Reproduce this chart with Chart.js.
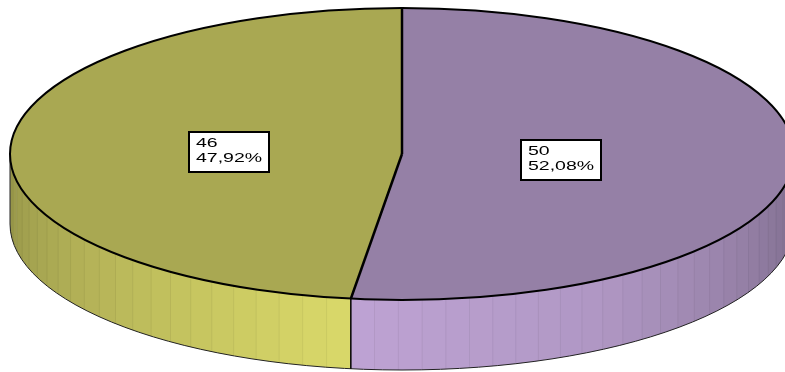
<!DOCTYPE html>
<html>
<head>
<meta charset="utf-8">
<script src="https://cdn.jsdelivr.net/npm/chart.js@4"></script>
<style>
  html, body { margin: 0; padding: 0; background: #fff; }
  canvas { display: block; }
</style>
</head>
<body>
<canvas id="pieChart" width="785" height="372"></canvas>
<script>
const categories = ['1', '2'];
const values = [50, 46];
const topColors = ['#9580a6', '#a9a852'];

// ellipse of the top face and the height of the side wall
const CX = 402, CY = 154, RX = 392, RY = 146, DEPTH = 70;

// brightness of the side wall by angle (degrees, 90 = front)
const lightStops = [[0, 0.82], [60, 1.18], [100, 1.28], [140, 1.08], [180, 0.88]];

function light(deg) {
  if (deg <= lightStops[0][0]) return lightStops[0][1];
  for (let i = 1; i < lightStops.length; i++) {
    const [d1, v1] = lightStops[i];
    const [d0, v0] = lightStops[i - 1];
    if (deg <= d1) return v0 + (v1 - v0) * (deg - d0) / (d1 - d0);
  }
  return lightStops[lightStops.length - 1][1];
}

function shade(hex, f) {
  const n = parseInt(hex.slice(1), 16);
  const c = [(n >> 16) & 255, (n >> 8) & 255, n & 255].map(v => Math.min(255, Math.round(v * f)));
  return `rgb(${c[0]},${c[1]},${c[2]})`;
}

function drawWall(ctx, a1, a2, base) {
  // only the front half of the wall is visible
  const s = Math.max(a1, 0);
  const e = Math.min(a2, Math.PI);
  if (e <= s) return;
  const step = 3.6 * Math.PI / 180;
  const n = Math.ceil((e - s) / step);
  const over = 0.004;
  for (let i = 0; i < n; i++) {
    const t0 = s + (e - s) * i / n;
    const t1 = s + (e - s) * (i + 1) / n;
    const u1 = i < n - 1 ? t1 + over : t1;
    ctx.fillStyle = shade(base, light((t0 + t1) / 2 * 180 / Math.PI));
    ctx.beginPath();
    ctx.ellipse(CX, CY, RX, RY, 0, t0, u1);
    ctx.ellipse(CX, CY + DEPTH, RX, RY, 0, u1, t0, true);
    ctx.closePath();
    ctx.fill();
  }
  // faint facet seams
  ctx.strokeStyle = 'rgba(0,0,0,0.06)';
  ctx.lineWidth = 1;
  for (let i = 1; i < n; i++) {
    const t = s + (e - s) * i / n;
    const x = CX + RX * Math.cos(t), y = CY + RY * Math.sin(t);
    ctx.beginPath();
    ctx.moveTo(x, y);
    ctx.lineTo(x, y + DEPTH);
    ctx.stroke();
  }
}

function fmtPct(v) {
  return v.toFixed(2).replace('.', ',') + '%';
}

const pie3d = {
  id: 'pie3d',
  beforeDatasetsDraw(chart) {
    const ctx = chart.ctx;
    const arcs = chart.getDatasetMeta(0).data;
    arcs.forEach((arc, i) => drawWall(ctx, arc.startAngle, arc.endAngle, topColors[i]));

    // squash the round pie into the top ellipse
    const a = arcs[0];
    ctx.save();
    ctx.translate(CX, CY);
    ctx.scale(RX / a.outerRadius, RY / a.outerRadius);
    ctx.translate(-a.x, -a.y);
  },
  afterDatasetsDraw(chart) {
    const ctx = chart.ctx;
    ctx.restore();
    const arcs = chart.getDatasetMeta(0).data;
    const total = values.reduce((s, v) => s + v, 0);

    ctx.save();
    // wall outline
    ctx.strokeStyle = '#222';
    ctx.lineWidth = 1;
    ctx.beginPath();
    ctx.ellipse(CX, CY + DEPTH, RX, RY, 0, 0, Math.PI);
    ctx.stroke();
    ctx.beginPath();
    ctx.moveTo(CX - RX, CY);
    ctx.lineTo(CX - RX, CY + DEPTH);
    ctx.stroke();

    ctx.strokeStyle = '#000';
    ctx.lineWidth = 1.5;
    arcs.forEach(arc => {
      const a = arc.startAngle;
      if (a > 0 && a < Math.PI) {
        const x = CX + RX * Math.cos(a), y = CY + RY * Math.sin(a);
        ctx.beginPath();
        ctx.moveTo(x, y);
        ctx.lineTo(x, y + DEPTH);
        ctx.stroke();
      }
    });

    // top rim and slice edges
    ctx.lineWidth = 2;
    ctx.beginPath();
    ctx.ellipse(CX, CY, RX, RY, 0, 0, Math.PI * 2);
    ctx.stroke();
    ctx.lineWidth = 2.5;
    arcs.forEach(arc => {
      const a = arc.startAngle;
      ctx.beginPath();
      ctx.moveTo(CX, CY);
      ctx.lineTo(CX + RX * Math.cos(a), CY + RY * Math.sin(a));
      ctx.stroke();
    });

    // value labels
    ctx.font = '13px "Liberation Sans", Arial, sans-serif';
    ctx.textBaseline = 'alphabetic';
    const stretch = 1.5;
    arcs.forEach((arc, i) => {
      const mid = (arc.startAngle + arc.endAngle) / 2;
      const ax = CX + RX * 0.424 * Math.cos(mid) - 7;
      const ay = CY + RY * 0.424 * Math.sin(mid) + 2;
      const lines = [String(values[i]), fmtPct(values[i] / total * 100)];
      const tw = Math.max(...lines.map(t => ctx.measureText(t).width)) * stretch;
      const w = Math.round(tw + 14), h = 40;
      const left = Math.round(ax - w / 2), top = Math.round(ay - h / 2);
      ctx.fillStyle = '#fff';
      ctx.fillRect(left, top, w, h);
      ctx.lineWidth = 2;
      ctx.strokeStyle = '#000';
      ctx.strokeRect(left, top, w, h);
      ctx.fillStyle = '#000';
      lines.forEach((t, j) => {
        ctx.save();
        ctx.translate(left + 7, top + 15 + j * 15);
        ctx.scale(stretch, 1);
        ctx.fillText(t, 0, 0);
        ctx.restore();
      });
    });
    ctx.restore();
  }
};

const ctx = document.getElementById('pieChart').getContext('2d');
new Chart(ctx, {
  type: 'pie',
  data: {
    labels: categories,
    datasets: [{
      data: values,
      backgroundColor: topColors,
      borderWidth: 0,
      clip: false
    }]
  },
  options: {
    responsive: false,
    animation: false,
    events: [],
    layout: { padding: 0 },
    plugins: {
      legend: { display: false },
      tooltip: { enabled: false }
    }
  },
  plugins: [pie3d]
});
</script>
</body>
</html>
